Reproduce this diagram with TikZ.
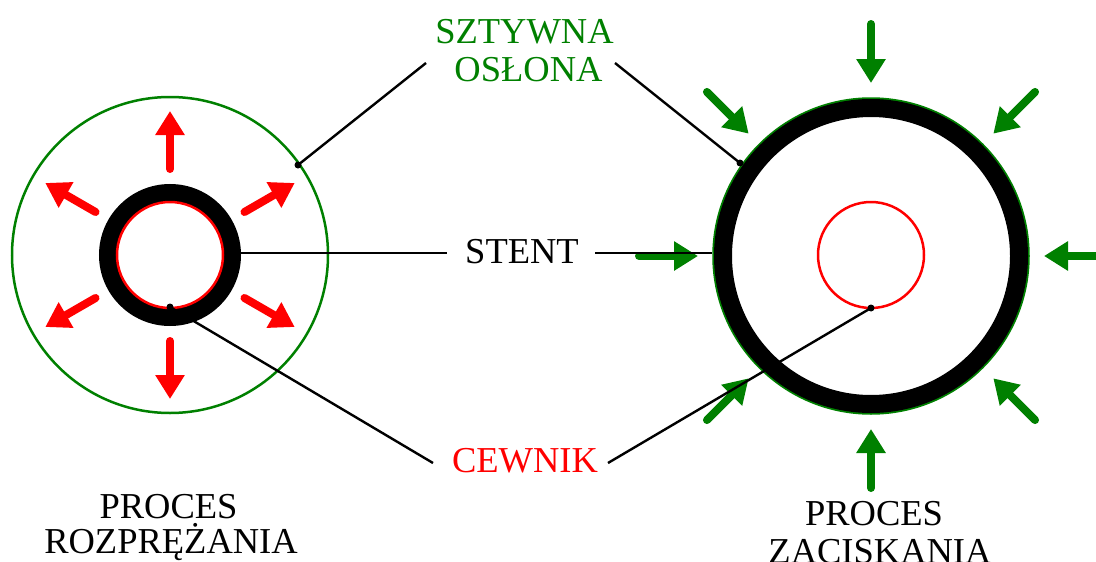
\documentclass[tikz,border=0pt]{standalone}
\usepackage{fontspec}
\setmainfont{Liberation Serif}
\usetikzlibrary{arrows.meta,calc}
\definecolor{dgreen}{RGB}{0,128,0}
\begin{document}
\begin{tikzpicture}[x=1pt,y=-1pt,
  lbl/.style={font=\fontsize{36.5}{40}\selectfont, inner sep=0pt, anchor=base},
  conn/.style={line width=2.4pt, black},
  redarrow/.style={red, line width=8pt, line cap=round, -{Triangle[width=28pt,length=24pt]}},
  grnarrow/.style={dgreen, line width=8pt, line cap=round, -{Triangle[width=28pt,length=24pt]}},
  dotc/.style={circle, fill=black, inner sep=0pt, minimum size=7pt}]
\useasboundingbox (0,0) rectangle (1096,562);
% left assembly
\coordinate (L) at (170,255);
\draw[dgreen, line width=2.5pt] (L) circle[radius=158];
\draw[black, line width=18pt] (L) circle[radius=62];
\draw[red, line width=2.5pt] (L) circle[radius=53];
\foreach \a in {30,90,150,210,270,330}
  \draw[redarrow] ($(L)+(\a:86)$) -- ($(L)+(\a:144)$);
% right assembly
\coordinate (R) at (871,256);
\draw[dgreen, line width=2.5pt] (R) circle[radius=157.5];
\draw[black, line width=18pt] (R) circle[radius=148];
\draw[red, line width=2.5pt] (871,255) circle[radius=53];
\foreach \a in {0,45,...,315}
  \draw[grnarrow] ($(R)+(\a:232)$) -- ($(R)+(\a:173)$);
% labels
\node[lbl, text=dgreen] (sz1) at (524.5,43) {SZTYWNA};
\node[lbl, text=dgreen] (sz2) at (528.5,81) {OSŁONA};
\node[lbl] (st) at (522,263) {STENT};
\node[lbl, text=red] (cw) at (525,472) {CEWNIK};
\node[lbl] (p1) at (168.5,518) {PROCES};
\node[lbl] (p2) at (171,553) {ROZPRĘŻANIA};
\node[lbl] (p3) at (874,525) {PROCES};
\node[lbl] (p4) at (880,563) {ZACISKANIA};
% connector ends
\coordinate (szL) at (426,63);
\coordinate (szR) at (615,63);
\coordinate (stL) at (447,253);
\coordinate (stR) at (595,253);
\coordinate (cwL) at (433,463);
\coordinate (cwR) at (608,463);
\coordinate (ringLE) at (241,253);
\coordinate (ringRW) at (712,253);
% dots
\node[dotc] (dLs) at (298,165) {};
\node[dotc] (dRs) at (740,163) {};
\node[dotc] (dL) at (170,307) {};
\node[dotc] (dR) at (871,308) {};
% connectors
\draw[conn] (dLs.center) -- (szL);
\draw[conn] (szR) -- (dRs.center);
\draw[conn] (ringLE) -- (stL);
\draw[conn] (stR) -- (ringRW);
\draw[conn] (dL.center) -- (cwL);
\draw[conn] (cwR) -- (dR.center);
\end{tikzpicture}
\end{document}
